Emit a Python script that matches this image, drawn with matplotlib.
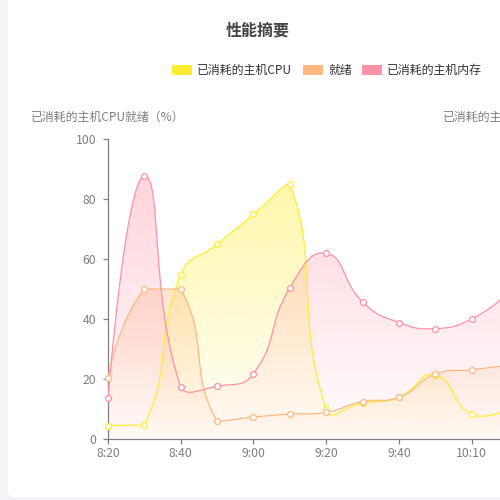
""" Grafica de resumen de rendimiento (CPU, listo, memoria) """

import numpy as np
import matplotlib.pyplot as plt
from matplotlib.path import Path
from matplotlib.patches import PathPatch, FancyBboxPatch, Rectangle
from matplotlib.colors import to_rgb

plt.rcParams['font.family'] = ['Noto Sans CJK SC', 'DejaVu Sans']

TIEMPOS = ['8:20', '8:30', '8:40', '8:50', '9:00', '9:10',
           '9:20', '9:30', '9:40', '9:50', '10:10', '10:20']
CPU = [4.5, 4.8, 54.8, 64.9, 74.9, 85.1, 10.0, 12.0, 13.9, 21.4, 8.3, 10.0]
LISTO = [20.5, 50.0, 50.0, 5.9, 7.3, 8.3, 8.9, 12.5, 13.9, 21.6, 23.1, 24.5]
MEMORIA = [13.7, 87.8, 17.4, 17.6, 21.8, 50.4, 61.9, 45.7, 38.8, 36.8, 40.0, 48.5]

NOMBRES = ['已消耗的主机CPU', '就绪', '已消耗的主机内存']
COLORES = ['#ffec33', '#ffb980', '#ff91a4']
TITULO = '性能摘要'
EJE_IZQ = '已消耗的主机CPU就绪（%）'
EJE_DER = '已消耗的主机内存（%）'
Y_TICKS = [0, 20, 40, 60, 80, 100]

GRIS = '#7f7f7f'
PX = 1 / 500


def curva_suave(ax, xs, ys, smooth=0.5):
  """ curva tipo echarts (bezier, limitada a la caja de la serie) """
  pts = ax.transData.transform(np.column_stack([xs, ys]))
  lo, hi = pts.min(axis=0), pts.max(axis=0)
  verts = [pts[0]]
  codes = [Path.MOVETO]
  cp0 = pts[0].copy()
  n = len(pts)
  for i in range(1, n):
    p, prev = pts[i], pts[i - 1]
    if i + 1 < n:
      nxt = pts[i + 1]
      v = nxt - prev
      l0 = np.hypot(*(p - prev))
      l1 = np.hypot(*(nxt - p))
      r = l1 / (l0 + l1)
      cp1 = p - v * smooth * (1 - r)
    else:
      v = np.zeros(2)
      r = 0.5
      cp1 = p.copy()
    verts += [np.clip(cp0, lo, hi), np.clip(cp1, lo, hi), p]
    codes += [Path.CURVE4] * 3
    cp0 = p + v * smooth * r
  verts = ax.transData.inverted().transform(np.array(verts))
  return verts, codes


def area_degradada(ax, verts, codes, xs, ys, color, a_top=0.5, a_bot=0.02):
  av = np.vstack([verts, [[xs[-1], 0], [xs[0], 0], [xs[0], 0]]])
  ac = codes + [Path.LINETO, Path.LINETO, Path.CLOSEPOLY]
  area = PathPatch(Path(av, ac), transform=ax.transData,
                   facecolor='none', edgecolor='none')
  ax.add_patch(area)
  grad = np.zeros((256, 1, 4))
  grad[..., :3] = to_rgb(color)
  grad[..., 3] = np.linspace(a_top, a_bot, 256)[:, None]
  im = ax.imshow(grad, extent=[xs[0], xs[-1], 0, max(ys)], origin='upper',
                 aspect='auto', interpolation='bilinear', zorder=1)
  im.set_clip_path(area)


fig = plt.figure(figsize=(5, 5), dpi=100)
fig.patch.set_facecolor('#f3f4f9')
fig.patches.append(FancyBboxPatch((8 * PX, 3 * PX), 1.0, 1.1,
                                  boxstyle='round,pad=0,rounding_size=0.012',
                                  transform=fig.transFigure, zorder=-5,
                                  facecolor='white', edgecolor='none'))

ax = fig.add_axes([108 * PX, 61 * PX, 400 * PX, 300 * PX])
ax.set_facecolor('none')
xs = np.arange(len(TIEMPOS))
ax.set_xlim(0, len(TIEMPOS) - 1)
ax.set_ylim(0, 100)

for i, (serie, color) in enumerate(zip([CPU, LISTO, MEMORIA], COLORES)):
  a_top = [0.42, 0.36, 0.38][i]
  verts, codes = curva_suave(ax, xs, serie)
  area_degradada(ax, verts, codes, xs, serie, color, a_top=a_top)
  ax.add_patch(PathPatch(Path(verts, codes), transform=ax.transData,
                         facecolor='none', edgecolor=color, lw=0.9, zorder=3))
  ax.plot(xs, serie, 'o', ms=4.2, mfc='white', mec=color, mew=0.9,
          zorder=4, clip_on=False)

ax.set_xlim(0, len(TIEMPOS) - 1)
ax.set_ylim(0, 100)

for lado in ['top', 'right']:
  ax.spines[lado].set_visible(False)
for lado in ['left', 'bottom']:
  ax.spines[lado].set_color('#808080')
  ax.spines[lado].set_linewidth(0.9)

ax.set_yticks(Y_TICKS)
ax.set_xticks(xs[::2])
ax.set_xticklabels(TIEMPOS[::2])
ax.tick_params(axis='both', colors='#808080', labelcolor=GRIS,
               labelsize=8.8, length=3.6, width=0.9)
ax.tick_params(axis='y', pad=5)
ax.tick_params(axis='x', pad=2.5)

ax.text(0, 100 + 22 / 3, EJE_IZQ, ha='center', va='center',
        fontsize=8.6, color=GRIS, clip_on=False)
ax.text(len(TIEMPOS) - 1, 100 + 22 / 3, EJE_DER, ha='center', va='center',
        fontsize=8.6, color=GRIS, clip_on=False)

fig.text(258 * PX, 1 - 31 * PX, TITULO, ha='center', va='center',
         fontsize=11.5, fontweight='bold', color='#464646')

# leyenda
for nombre, color, x0 in zip(NOMBRES, COLORES, [172, 303, 362]):
  fig.patches.append(Rectangle((x0 * PX, 1 - 75 * PX), 20 * PX, 10 * PX,
                               transform=fig.transFigure,
                               facecolor=color, edgecolor='none'))
  fig.text((x0 + 25) * PX, 1 - 70 * PX, nombre, ha='left', va='center',
           fontsize=8.6, color='#333333')

fig.savefig('out.png', dpi=100)
